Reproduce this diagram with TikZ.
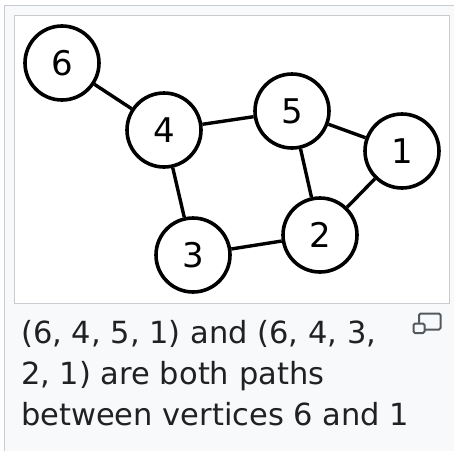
\documentclass[tikz,border=0pt]{standalone}
\usepackage{fontspec}
\setmainfont{DejaVu Sans}
\definecolor{framebg}{HTML}{F8F9FA}
\definecolor{frameline}{HTML}{C8CCD1}
\definecolor{innerline}{HTML}{C8CCD1}
\definecolor{captext}{HTML}{202122}
\definecolor{icongray}{HTML}{54595D}
\begin{document}
\begin{tikzpicture}[x=1pt,y=-1pt,
  vertex/.style={circle,draw=black,fill=white,line width=3.6pt,minimum size=74pt,inner sep=0pt,font=\fontsize{34}{40}\selectfont},
  edge/.style={line width=3.4pt,black},
  capline/.style={anchor=base west,inner sep=0pt,text=captext,font=\fontsize{30.5}{38}\selectfont}]
\useasboundingbox (0,0) rectangle (454,450);
% outer frame
\fill[framebg] (4,5) rectangle (460,460);
\draw[frameline,line width=1pt] (4.5,460) -- (4.5,5.5) -- (460,5.5);
% inner image box
\draw[innerline,fill=white,line width=1pt] (14.5,15.5) rectangle (449.5,303.5);
% vertices
\node[vertex] (n6) at (62,63) {6};
\node[vertex] (n4) at (164,130) {4};
\node[vertex] (n5) at (292,111) {5};
\node[vertex] (n1) at (402,151) {1};
\node[vertex] (n2) at (320,235) {2};
\node[vertex] (n3) at (193,255) {3};
% edges
\draw[edge] (n6) -- (n4);
\draw[edge] (n4) -- (n5);
\draw[edge] (n5) -- (n1);
\draw[edge] (n5) -- (n2);
\draw[edge] (n1) -- (n2);
\draw[edge] (n4) -- (n3);
\draw[edge] (n3) -- (n2);
% caption
\node[capline] (c1) at (21,343) {(6, 4, 5, 1) and (6, 4, 3,};
\node[capline] (c2) at (21,384) {2, 1) are both paths};
\node[capline] (c3) at (21,425) {between vertices 6 and 1};
% enlarge icon
\draw[icongray,line width=2pt,rounded corners=1.5pt,fill=framebg] (419,313.5) rectangle (440.5,329.5);
\draw[icongray,line width=2pt,rounded corners=1.5pt,fill=framebg] (413.5,323.5) rectangle (424.5,333);
\end{tikzpicture}
\end{document}
